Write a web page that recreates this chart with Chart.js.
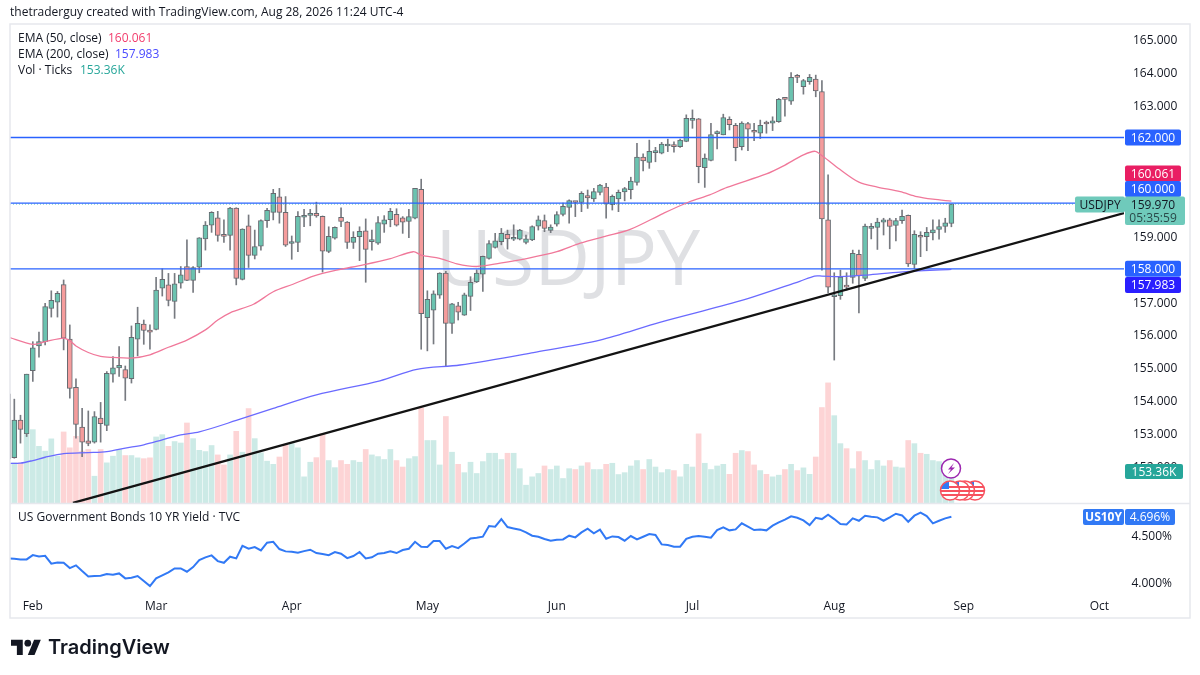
<!DOCTYPE html>
<html><head><meta charset="utf-8">
<style>html,body{margin:0;padding:0;background:#fff}canvas{display:block}</style>
<script src="https://cdn.jsdelivr.net/npm/chart.js@4"></script>
</head><body><canvas id="c" width="1200" height="675"></canvas>
<script>
const FONT='"Open Sans"';
const firstIndex=-1;
const opens=[152.20,
152.25,153.39,152.97,154.90,155.65,155.78,156.79,156.98,157.52,155.86,
154.39,153.18,152.76,152.72,153.45,153.23,154.79,154.98,154.93,154.65,
155.86,156.32,156.13,156.15,157.41,157.51,157.01,157.56,158.07,157.65,
158.05,158.91,159.33,159.55,159.05,159.02,159.85,157.68,159.31,158.41,
158.69,159.47,159.72,160.19,159.72,158.77,158.80,159.57,159.63,159.69,
159.60,158.53,158.93,159.57,159.42,158.80,158.98,159.16,158.83,158.78,
159.36,159.50,159.66,159.55,159.44,159.54,160.42,156.51,156.74,157.20,
157.87,156.34,156.87,156.59,157.16,157.60,157.84,158.32,158.65,158.83,
159.05,158.90,158.90,158.80,158.88,159.30,159.47,159.17,159.36,159.66,
159.87,160.05,160.02,160.23,160.13,160.33,160.49,159.95,160.13,160.34,
160.41,160.63,161.40,161.24,161.54,161.52,161.74,161.78,161.72,161.88,
162.52,162.57,161.08,161.30,162.12,162.08,162.55,162.37,161.72,162.42,
162.18,162.13,162.43,162.44,162.48,163.18,163.11,163.85,163.55,163.70,
163.78,163.40,159.49,157.15,157.18,157.48,157.74,158.44,157.71,159.23,
159.26,159.42,159.49,159.32,159.47,159.63,158.13,159.02,158.98,159.09,
159.20,159.29,159.38];
const highs=[154.20,
154.03,153.54,154.79,155.78,156.07,156.95,157.33,157.31,157.66,156.29,
154.65,153.75,153.67,153.65,153.93,154.87,155.33,155.63,155.04,156.26,
156.83,156.44,156.29,157.74,158.00,157.86,157.86,158.07,158.88,158.07,
158.95,159.44,159.74,159.75,159.49,159.87,159.86,159.22,159.64,159.18,
159.49,159.84,160.42,160.45,160.20,159.00,159.74,159.81,159.81,160.03,
159.61,159.28,159.28,159.86,159.44,159.13,159.28,159.52,159.18,159.59,
159.62,159.84,159.83,159.59,159.81,160.45,160.73,157.33,157.33,157.88,
157.92,156.95,156.98,157.26,157.76,157.97,158.39,158.86,159.08,159.23,
159.18,159.34,159.20,159.03,159.31,159.61,159.64,159.34,159.74,160.00,
160.10,160.05,160.35,160.40,160.45,160.57,160.60,160.25,160.40,160.48,
160.79,161.82,161.50,161.92,161.70,161.85,161.95,161.87,161.95,162.69,
162.84,162.58,161.50,162.43,162.20,162.71,162.63,162.43,162.48,162.46,
162.43,162.53,162.50,162.63,163.19,163.21,163.98,163.92,163.77,163.92,
163.90,163.73,160.86,157.88,157.96,157.88,158.57,158.57,159.36,159.38,
159.54,159.54,159.54,159.54,159.79,159.64,159.16,159.13,159.26,159.49,
159.49,159.54,159.97];
const lows=[152.10,
152.23,152.69,152.89,154.57,155.31,155.68,156.53,156.53,155.53,154.06,
152.84,152.28,152.61,152.69,152.72,153.07,154.55,154.72,153.99,154.52,
155.35,155.70,155.55,156.14,157.17,156.87,156.49,157.41,157.64,157.28,
157.88,158.57,159.11,158.84,158.80,158.57,157.51,157.66,158.04,158.30,
158.57,159.26,159.49,159.39,158.68,158.29,158.52,159.28,159.31,159.57,
157.90,158.49,158.90,159.28,158.62,158.62,158.25,157.59,158.57,158.74,
159.11,159.28,159.30,159.08,158.95,159.52,155.55,155.50,155.71,157.10,
155.05,156.03,156.44,156.58,156.73,157.58,157.31,158.29,158.63,158.73,
158.60,158.86,158.88,158.76,158.86,159.18,159.13,159.10,159.30,159.61,
159.39,159.59,159.74,159.84,160.05,160.25,159.54,159.79,159.74,160.07,
160.13,160.55,160.98,161.06,161.26,161.50,161.57,161.55,161.70,161.87,
162.28,160.62,160.48,161.29,161.65,162.08,162.23,161.29,161.62,161.60,
161.90,161.97,162.13,162.21,162.46,162.65,163.01,163.67,163.32,163.62,
163.24,157.96,157.27,155.22,157.07,157.35,157.56,156.66,157.64,158.91,
158.59,159.03,158.61,158.85,159.38,158.07,158.01,158.37,158.55,158.88,
158.90,159.11,159.28];
const closes=[154.19,
153.39,153.11,154.79,155.59,155.78,156.85,157.04,157.25,155.89,154.36,
153.26,152.72,152.68,153.50,153.28,154.82,154.98,155.06,154.67,155.91,
156.34,156.12,156.07,157.35,157.68,157.04,157.54,157.82,157.65,158.04,
158.94,159.33,159.72,159.02,158.99,159.85,157.71,159.21,158.41,158.68,
159.47,159.78,160.30,159.72,158.72,158.79,159.60,159.61,159.67,159.61,
158.54,158.99,159.26,159.44,158.80,158.96,159.14,158.59,158.84,159.41,
159.49,159.75,159.33,159.42,159.59,160.45,156.63,157.07,157.24,157.87,
156.34,156.93,156.68,157.21,157.59,157.87,158.38,158.77,158.85,159.08,
158.91,158.96,159.18,158.91,159.29,159.49,159.23,159.27,159.65,159.90,
160.08,160.02,160.30,160.16,160.35,160.55,159.98,160.21,160.33,160.44,
160.67,161.40,161.29,161.58,161.56,161.80,161.77,161.72,161.92,162.58,
162.58,161.11,161.37,162.09,162.14,162.61,162.39,161.69,162.44,162.25,
162.16,162.37,162.41,162.51,163.16,163.16,163.83,163.83,163.73,163.83,
163.42,159.52,157.44,157.19,157.75,157.44,158.47,157.78,159.30,159.25,
159.42,159.49,159.29,159.47,159.60,158.15,159.05,158.96,159.11,159.19,
159.29,159.40,159.97];
const volumesK=[190,
192,192,327,351,271,248,307,224,340,264,
319,248,256,128,256,192,224,256,227,227,
216,212,216,316,327,271,294,287,383,308,
252,246,275,230,182,230,343,243,452,308,
240,200,185,220,278,284,264,125,195,217,
332,203,169,203,185,203,195,256,230,222,
208,256,203,172,212,222,455,299,299,182,
414,243,185,145,195,141,198,238,238,208,
238,238,164,85,125,141,177,160,177,117,
164,160,177,193,160,160,185,190,136,145,
177,203,160,208,172,145,160,155,125,185,
172,331,190,160,177,185,137,238,251,246,
182,155,137,125,133,160,185,155,168,137,
220,457,575,418,284,260,164,246,203,160,
203,177,203,172,168,299,284,238,233,203,
198,192,153.36];
const yields=[4.250,
4.246,4.239,4.239,4.285,4.271,4.278,4.193,4.207,4.203,4.146,
4.175,4.114,4.057,4.061,4.064,4.082,4.075,4.089,4.036,4.043,
4.061,4.007,3.953,4.036,4.068,4.100,4.143,4.143,4.107,4.157,
4.232,4.261,4.282,4.221,4.203,4.268,4.250,4.385,4.353,4.371,
4.335,4.418,4.428,4.350,4.325,4.321,4.310,4.328,4.343,4.307,
4.296,4.285,4.318,4.300,4.253,4.275,4.318,4.250,4.261,4.300,
4.307,4.325,4.307,4.339,4.353,4.428,4.375,4.371,4.435,4.435,
4.353,4.382,4.360,4.410,4.464,4.471,4.482,4.596,4.589,4.671,
4.585,4.571,4.557,4.528,4.493,4.482,4.457,4.439,4.450,4.453,
4.493,4.475,4.528,4.568,4.518,4.557,4.460,4.485,4.478,4.439,
4.489,4.453,4.482,4.510,4.500,4.400,4.393,4.375,4.375,4.460,
4.482,4.489,4.482,4.471,4.553,4.582,4.550,4.560,4.625,4.589,
4.553,4.560,4.550,4.600,4.635,4.664,4.700,4.685,4.657,4.607,
4.685,4.671,4.717,4.671,4.618,4.614,4.678,4.653,4.707,4.696,
4.689,4.653,4.689,4.728,4.710,4.642,4.707,4.739,4.703,4.625,
4.653,4.678,4.696];
const ema50Idx=[-1,3,5,8,9,10,12,14,16,19,22,25,28,31,33,35,38.8,42,45.2,48.5,52.3,56.6,61,64.7,66.1,69,71.8,75,78.8,83.1,88,91.8,96.1,99.9,105.3,109.6,112.8,115.6,122,124.7,128,129.9,131.2,133.9,137,140,143.7,146.4,149,152];
const ema50Val=[155.92,155.70,155.78,155.89,155.81,155.65,155.45,155.33,155.30,155.28,155.38,155.61,155.83,156.14,156.44,156.66,156.92,157.30,157.53,157.78,157.96,158.12,158.31,158.52,158.41,158.32,158.15,158.07,158.17,158.31,158.52,158.78,159.00,159.20,159.69,160.05,160.25,160.48,160.89,161.13,161.47,161.58,161.42,161.03,160.64,160.49,160.35,160.20,160.12,160.061];
const ema200Idx=[-1,1,3,5,8,12,15,18,21,24,27,30,36,42,49,59.3,65.3,72.3,84.2,95,104.7,117.7,127.4,129.8,131,134,138.3,143.7,152];
const ema200Val=[152.07,152.08,152.16,152.26,152.37,152.40,152.43,152.54,152.64,152.79,152.94,153.03,153.38,153.75,154.16,154.59,154.94,155.07,155.45,155.83,156.37,157.02,157.62,157.78,157.78,157.76,157.81,157.90,157.983];
const trendIdx=[9.5,180];
const trendVal=[150.87,159.70];
const levelLines=[162,160,158];
const lastClose=159.97;
const priceTicks=[152,153,154,155,156,157,158,159,160,161,162,163,164,165];
const yieldTicks=[4,4.5];
const monthIdx=[3,23,45,67,88,110,133,154,176];
const monthNames=['Feb','Mar','Apr','May','Jun','Jul','Aug','Sep','Oct'];

const X0=-0.70,X1=180;
const idx=opens.map((_,i)=>i+firstIndex);
const isUp=i=>closes[i]>=opens[i];
const text=(ctx,s,x,y,font,color,align='left')=>{ctx.font=font;ctx.fillStyle=color;ctx.textAlign=align;ctx.textBaseline='middle';ctx.fillText(s,x,y+1);};
const rr=(ctx,x,y,w,h,r,color)=>{ctx.fillStyle=color;ctx.beginPath();ctx.roundRect(x,y,w,h,r);ctx.fill();};

const backdrop={id:'backdrop',beforeDatasetsDraw(chart){
  const c=chart.ctx;c.save();
  text(c,'USDJPY',568,262,`77px ${FONT}`,'#dfe0e3','center');
  c.restore();
}};
const overlay={id:'overlay',afterDraw(chart){
  const c=chart.ctx;const P=chart.scales.y;c.save();
  c.strokeStyle='#e6e8ed';c.lineWidth=1.5;c.strokeRect(10,24,1180,594);
  c.beginPath();c.moveTo(10,503.5);c.lineTo(1190,503.5);c.stroke();
  const F12=`12px ${FONT}`;
  text(c,'thetraderguy created with TradingView.com, Aug 28, 2026 11:24 UTC-4',10,12,F12,'#131722');
  text(c,'EMA (50, close)',18,38,F12,'#131722');
  text(c,'160.061',108,38,F12,'#f23d6d');
  text(c,'EMA (200, close)',18,54,F12,'#131722');
  text(c,'157.983',115,54,F12,'#4a4aff');
  text(c,'Vol · Ticks',18,70,F12,'#131722');
  text(c,'153.36K',80,70,F12,'#26a69a');
  text(c,'US Government Bonds 10 YR Yield · TVC',18,517,F12,'#131722');
  const badge=(s,cy,bg)=>{rr(c,1125,cy-8,56,16,2,bg);text(c,s,1153,cy,`12px ${FONT}`,'#fff','center');};
  badge('162.000',P.getPixelForValue(162),'#2962ff');
  badge('160.061',173.5,'#e91e63');
  badge('160.000',189,'#2962ff');
  badge('158.000',P.getPixelForValue(158),'#2962ff');
  badge('157.983',285,'#2a1fff');
  rr(c,1075,196.5,50,16,2,'#6fcabb');
  text(c,'USDJPY',1100,204.5,F12,'#131722','center');
  rr(c,1125,196.5,60,28.5,2,'#6fcabb');
  text(c,'159.970',1153,204.5,F12,'#131722','center');
  text(c,'05:35:59',1153,217.5,F12,'#2a4a4a','center');
  rr(c,1125,464,58,15,2,'#26a69a');
  text(c,'153.36K',1154,471.5,F12,'#fff','center');
  rr(c,1083,509,41,16,2,'#3179f5');
  rr(c,1125,509,50,16,2,'#3179f5');
  text(c,'US10Y',1103.5,517,`bold 12px ${FONT}`,'#fff','center');
  text(c,'4.696%',1150,517,F12,'#fff','center');
  // event markers
  [975,965,960,950].forEach(x=>{
    c.save();c.beginPath();c.arc(x,490.5,9.5,0,7);c.fillStyle='#fff';c.fill();c.clip();
    c.fillStyle='#f7525f';[486,490,494].forEach(y=>c.fillRect(x-10,y,20,2));
    c.fillStyle='#2f7bf6';c.fillRect(x-9,482,8,7);c.restore();
    c.beginPath();c.arc(x,490.5,9.5,0,7);c.strokeStyle='#f7525f';c.lineWidth=1.5;c.stroke();
  });
  c.beginPath();c.arc(951,468.5,9.5,0,7);c.fillStyle='#fff';c.fill();c.strokeStyle='#9c27b0';c.lineWidth=1.5;c.stroke();
  c.beginPath();c.moveTo(954,463);c.lineTo(948,469.5);c.lineTo(951,469.5);c.lineTo(948,474);c.lineTo(955,467.5);c.lineTo(951.5,467.5);c.closePath();c.fillStyle='#9c27b0';c.fill();
  // logo
  c.save();c.translate(11,636.5);c.scale(.84,.84);c.fillStyle='#131722';
  c.fill(new Path2D('M14 22H7V11H0V4h14v18zM28 22h-8l7.5-18h8L28 22z'));
  c.beginPath();c.arc(20,8,4,0,7);c.fill();c.restore();
  text(c,'TradingView',48,647,`600 20px Inter`,'#131722');
  c.restore();
}};

new Chart(document.getElementById('c'),{
  type:'bar',
  data:{datasets:[
    {type:'bar',label:'Vol',yAxisID:'yVol',order:20,grouped:false,barThickness:5,
      data:idx.map((x,i)=>({x,y:volumesK[i]})),
      backgroundColor:idx.map((_,i)=>isUp(i)?'#cceae6':'#fdd4d5')},
    {type:'bar',label:'Wick',yAxisID:'y',order:9,grouped:false,barThickness:1,
      data:idx.map((x,i)=>({x,y:[lows[i],highs[i]]})),backgroundColor:'#777a80'},
    {type:'bar',label:'Body',yAxisID:'y',order:8,grouped:false,barThickness:5,minBarLength:2,
      data:idx.map((x,i)=>({x,y:[opens[i],closes[i]]})),
      backgroundColor:idx.map((_,i)=>isUp(i)?'#6bc3b0':'#f59c9c'),borderColor:'#666a70',borderWidth:1,borderSkipped:false},
    ...levelLines.map(v=>({type:'line',label:'L'+v,yAxisID:'y',order:7,data:[{x:X0,y:v},{x:X1,y:v}],borderColor:'#2962ff',borderWidth:1.3,pointRadius:0})),
    {type:'line',label:'Last',yAxisID:'y',order:7,data:[{x:X0,y:lastClose},{x:X1,y:lastClose}],borderColor:'#6fcabb',borderWidth:1,borderDash:[1,2],pointRadius:0},
    {type:'line',label:'EMA50',yAxisID:'y',order:6,data:ema50Idx.map((x,i)=>({x,y:ema50Val[i]})),borderColor:'#f0789a',borderWidth:1.3,pointRadius:0,tension:.3},
    {type:'line',label:'EMA200',yAxisID:'y',order:6,data:ema200Idx.map((x,i)=>({x,y:ema200Val[i]})),borderColor:'#6a6aff',borderWidth:1.3,pointRadius:0,tension:.3},
    {type:'line',label:'Trend',yAxisID:'y',order:1,data:trendIdx.map((x,i)=>({x,y:trendVal[i]})),borderColor:'#131313',borderWidth:2.3,pointRadius:0},
    {type:'line',label:'US10Y',yAxisID:'yYield',order:5,data:idx.map((x,i)=>({x,y:yields[i]})),borderColor:'#3179f5',borderWidth:2,pointRadius:0,tension:0},
  ]},
  options:{
    responsive:false,animation:false,devicePixelRatio:1,events:[],
    layout:{padding:{left:10,right:10,top:24,bottom:57}},
    plugins:{legend:{display:false},tooltip:{enabled:false}},
    scales:{
      x:{type:'linear',min:X0,max:X1,offset:false,grid:{display:false,drawTicks:false},border:{display:false},
        afterBuildTicks:s=>{s.ticks=monthIdx.map(v=>({value:v}));},
        afterFit:s=>{s.height=23;},
        ticks:{autoSkip:false,maxRotation:0,padding:4,font:{family:'"Open Sans"',size:12},color:'#131722',
          callback:v=>monthNames[monthIdx.indexOf(v)]}},
      yYield:{type:'linear',position:'right',weight:0,min:3.858,max:9.971,grid:{display:false,drawTicks:false},border:{display:false},
        afterBuildTicks:s=>{s.ticks=yieldTicks.map(v=>({value:v}));},
        afterFit:s=>{s.width=0;s.paddingTop=0;s.paddingBottom=0;},
        ticks:{autoSkip:false,mirror:true,padding:48,labelOffset:1.5,font:{family:'"Open Sans"',size:12},color:'#131722',callback:v=>v.toFixed(3)+'%'}},
      y:{type:'linear',position:'right',weight:1,min:148.064,max:165.457,grid:{display:false,drawTicks:false},border:{display:false},
        afterBuildTicks:s=>{s.ticks=priceTicks.map(v=>({value:v}));},
        afterFit:s=>{s.width=66;s.paddingTop=0;s.paddingBottom=0;},
        ticks:{autoSkip:false,padding:9,labelOffset:1.5,font:{family:'"Open Sans"',size:12},color:'#131722',callback:v=>v.toFixed(3)}},
      yVol:{type:'linear',display:false,min:-441,max:2294}
    }
  },
  plugins:[backdrop,overlay]
});
</script></body></html>
